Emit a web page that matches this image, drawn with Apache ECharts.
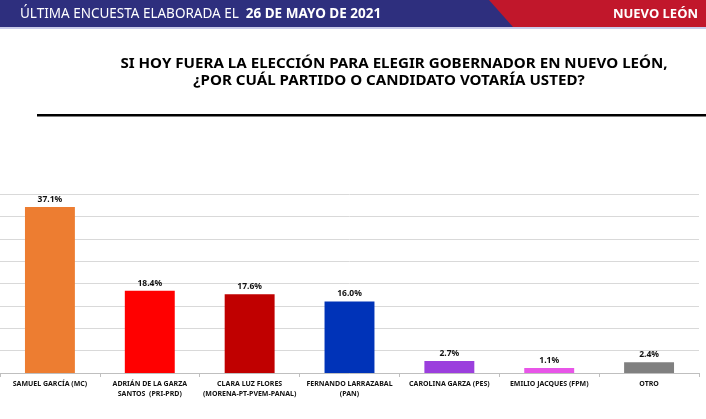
<!DOCTYPE html>
<html>
<head>
<meta charset="utf-8">
<script src="https://cdn.jsdelivr.net/npm/echarts@6/dist/echarts.min.js"></script>
<style>html,body{margin:0;padding:0;background:#fff}#c{width:706px;height:419px}</style>
</head>
<body>
<div id="c"></div>
<script>
const categories = [
  "SAMUEL GARCÍA (MC)",
  "ADRIÁN DE LA GARZA\nSANTOS  (PRI-PRD)",
  "CLARA LUZ FLORES\n(MORENA-PT-PVEM-PANAL)",
  "FERNANDO LARRAZABAL\n(PAN)",
  "CAROLINA GARZA (PES)",
  "EMILIO JACQUES (FPM)",
  "OTRO"
];
const values = [37.1, 18.4, 17.6, 16.0, 2.7, 1.1, 2.4];
const barColors = ["#ED7D31", "#FF0000", "#C00000", "#0033B8", "#9B3FDD", "#E855E8", "#808080"];
const yTicks = [0, 5, 10, 15, 20, 25, 30, 35, 40];
const headerLeft = "ÚLTIMA ENCUESTA ELABORADA EL  ";
const headerDate = "26 DE MAYO DE 2021";
const headerRight = "NUEVO LEÓN";
const titleLines = ["SI HOY FUERA LA ELECCIÓN PARA ELEGIR GOBERNADOR EN NUEVO LEÓN,", "¿POR CUÁL PARTIDO O CANDIDATO VOTARÍA USTED?"];

const FONT = '"Noto Sans", sans-serif';
const chart = echarts.init(document.getElementById('c'), null, {renderer: 'canvas'});
chart.setOption({
  animation: false,
  backgroundColor: '#ffffff',
  grid: {left: -1, right: 7, top: 194, bottom: 46, containLabel: false},
  xAxis: {
    type: 'category',
    data: categories,
    axisLine: {lineStyle: {color: '#BFBFBF', width: 1}},
    axisTick: {show: true, length: 4, lineStyle: {color: '#BFBFBF'}},
    axisLabel: {interval: 0, color: '#111', fontFamily: FONT, fontWeight: 'bold', fontSize: 7, lineHeight: 10, margin: 6}
  },
  yAxis: {
    type: 'value', min: yTicks[0], max: yTicks[yTicks.length - 1], interval: yTicks[1] - yTicks[0],
    axisLabel: {show: false}, axisLine: {show: false}, axisTick: {show: false},
    splitLine: {lineStyle: {color: '#D9D9D9', width: 1}}
  },
  series: [{
    type: 'bar',
    barWidth: '50%',
    data: values.map((v, i) => ({value: v, itemStyle: {color: barColors[i]}})),
    label: {show: true, position: 'top', distance: 3, formatter: p => p.value.toFixed(1) + '%',
      color: '#111', fontFamily: FONT, fontWeight: 'bold', fontSize: 8.5}
  }],
  graphic: [
    {type: 'rect', shape: {x: 0, y: 0, width: 706, height: 27}, style: {fill: '#2E2F7E'}, silent: true},
    {type: 'polygon', shape: {points: [[489, 0], [706, 0], [706, 27], [513, 27]]}, style: {fill: '#C1172B'}, silent: true},
    {type: 'rect', shape: {x: 0, y: 27, width: 706, height: 2}, style: {fill: '#C9CBEA'}, silent: true},
    {type: 'text', x: 20, y: 14, style: {
      text: '{a|' + headerLeft + '}{b|' + headerDate + '}', verticalAlign: 'middle',
      rich: {
        a: {fill: '#fff', fontFamily: FONT, fontSize: 13.5},
        b: {fill: '#fff', fontFamily: FONT, fontSize: 13.5, fontWeight: 'bold'}
      }}},
    {type: 'text', x: 698, y: 14, style: {text: headerRight, fill: '#fff', fontFamily: FONT, fontSize: 13, fontWeight: 'bold', align: 'right', verticalAlign: 'middle'}},
    {type: 'text', x: 394, y: 64, scaleX: 1.08, style: {text: titleLines[0], fill: '#000', fontFamily: FONT, fontSize: 14, fontWeight: 'bold', align: 'center', verticalAlign: 'middle'}},
    {type: 'text', x: 389, y: 81.5, scaleX: 1.08, style: {text: titleLines[1], fill: '#000', fontFamily: FONT, fontSize: 14, fontWeight: 'bold', align: 'center', verticalAlign: 'middle'}},
    {type: 'rect', shape: {x: 37, y: 114, width: 669, height: 2.5}, style: {fill: '#000'}, silent: true}
  ]
});
</script>
</body>
</html>
